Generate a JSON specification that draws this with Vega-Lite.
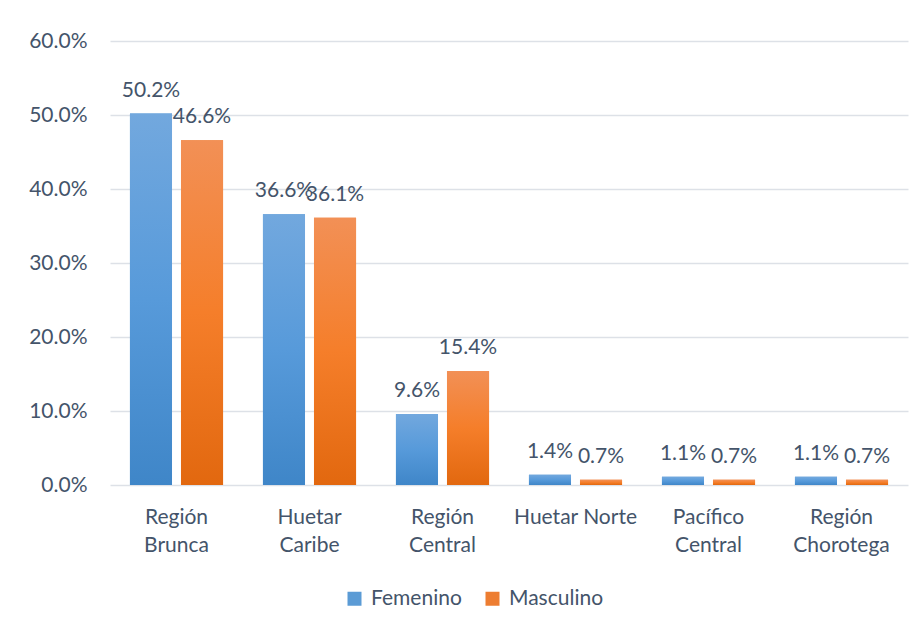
{
  "$schema": "https://vega.github.io/schema/vega-lite/v6.json",
  "width": 798,
  "height": 444,
  "autosize": {"type": "none"},
  "padding": {"left": 110, "top": 41, "right": 15, "bottom": 146},
  "background": "white",
  "config": {
    "view": {"stroke": null},
    "font": "Lato",
    "axis": {"labelFont": "Lato", "labelColor": "#44546a", "labelFontSize": 21},
    "legend": {"labelFont": "Lato", "labelColor": "#44546a", "labelFontSize": 21}
  },
  "data": {
    "values": [
      {"region": "Región Brunca", "sexo": "Femenino", "valor": 0.502},
      {"region": "Región Brunca", "sexo": "Masculino", "valor": 0.466},
      {"region": "Huetar Caribe", "sexo": "Femenino", "valor": 0.366},
      {"region": "Huetar Caribe", "sexo": "Masculino", "valor": 0.361},
      {"region": "Región Central", "sexo": "Femenino", "valor": 0.096},
      {"region": "Región Central", "sexo": "Masculino", "valor": 0.154},
      {"region": "Huetar Norte", "sexo": "Femenino", "valor": 0.014},
      {"region": "Huetar Norte", "sexo": "Masculino", "valor": 0.007},
      {"region": "Pacífico Central", "sexo": "Femenino", "valor": 0.011},
      {"region": "Pacífico Central", "sexo": "Masculino", "valor": 0.007},
      {"region": "Región Chorotega", "sexo": "Femenino", "valor": 0.011},
      {"region": "Región Chorotega", "sexo": "Masculino", "valor": 0.007}
    ]
  },
  "encoding": {
    "x": {
      "field": "region",
      "type": "nominal",
      "sort": null,
      "title": null,
      "scale": {"paddingInner": 0.3, "paddingOuter": 0.15},
      "axis": {
        "labelAngle": 0,
        "domain": false,
        "ticks": false,
        "labelPadding": 21,
        "labelLineHeight": 28,
        "labelExpr": "datum.label == 'Huetar Norte' ? datum.label : split(datum.label, ' ')"
      }
    },
    "xOffset": {
      "field": "sexo",
      "type": "nominal",
      "scale": {"domain": ["Femenino", "Masculino"], "paddingInner": 0.176}
    },
    "y": {
      "field": "valor",
      "type": "quantitative",
      "title": null,
      "scale": {"domain": [0, 0.6]},
      "axis": {
        "values": [0, 0.1, 0.2, 0.3, 0.4, 0.5, 0.6],
        "format": ".1%",
        "domain": false,
        "ticks": false,
        "labelPadding": 23,
        "grid": true,
        "gridColor": "#dde1e7",
        "gridWidth": 1.5
      }
    }
  },
  "layer": [
    {
      "mark": {"type": "bar"},
      "encoding": {
        "color": {
          "field": "sexo",
          "type": "nominal",
          "scale": {"domain": ["Femenino", "Masculino"], "range": ["#5b9bd5", "#ed7d31"]},
          "legend": {
            "title": null,
            "orient": "none",
            "direction": "horizontal",
            "legendX": 234,
            "legendY": 547,
            "symbolType": "square",
            "symbolSize": 196,
            "symbolStrokeWidth": 0,
            "symbolOpacity": 1,
            "labelOffset": 6,
            "columnPadding": 20
          }
        }
      }
    },
    {
      "transform": [{"filter": "datum.sexo === 'Femenino'"}],
      "mark": {
        "type": "bar",
        "fill": {
          "gradient": "linear", "x1": 0, "y1": 0, "x2": 0, "y2": 1,
          "stops": [{"offset": 0, "color": "#72a8de"}, {"offset": 0.5, "color": "#579ada"}, {"offset": 1, "color": "#3f86c8"}]
        }
      }
    },
    {
      "transform": [{"filter": "datum.sexo === 'Masculino'"}],
      "mark": {
        "type": "bar",
        "fill": {
          "gradient": "linear", "x1": 0, "y1": 0, "x2": 0, "y2": 1,
          "stops": [{"offset": 0, "color": "#f29056"}, {"offset": 0.5, "color": "#f57e2a"}, {"offset": 1, "color": "#e2680f"}]
        }
      }
    },
    {
      "mark": {"type": "text", "dy": -17, "baseline": "alphabetic", "fontSize": 21, "font": "Lato", "color": "#44546a"},
      "encoding": {"text": {"field": "valor", "type": "quantitative", "format": ".1%"}}
    }
  ]
}
